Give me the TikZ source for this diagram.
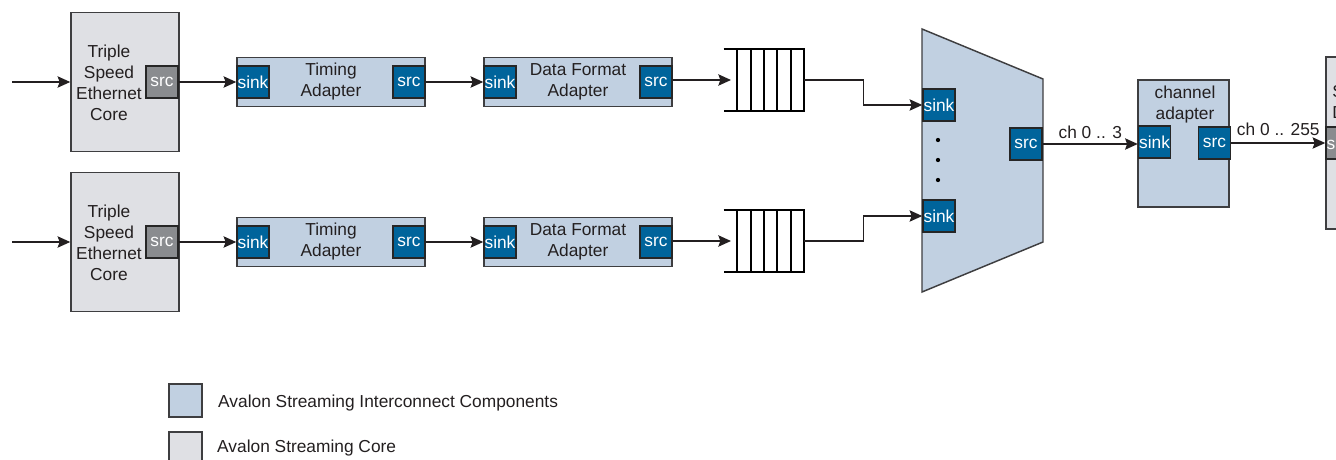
\documentclass[tikz,border=0pt]{standalone}
\usepackage{fontspec}
\setmainfont{Liberation Sans}
\usetikzlibrary{arrows.meta, positioning, calc}

\definecolor{icblue}{RGB}{193,208,225}
\definecolor{coregray}{RGB}{223,224,228}
\definecolor{portblue}{RGB}{0,100,155}
\definecolor{portgray}{RGB}{138,140,143}
\definecolor{edgegray}{RGB}{62,62,64}
\definecolor{txtgray}{RGB}{35,31,32}

\tikzset{
  coreblock/.style={draw=edgegray, fill=coregray, line width=1.1pt, inner sep=0pt},
  icblock/.style={draw=edgegray, fill=icblue, line width=1.1pt, inner sep=0pt, align=center},
  blueport/.style={draw=black!85, fill=portblue, text=white, line width=1.1pt,
    minimum width=24pt, minimum height=24pt, inner sep=0pt},
  greyport/.style={blueport, fill=portgray},
  flow/.style={draw=txtgray, line width=1pt, -{Stealth[length=9.5pt,width=8.5pt,inset=1.5pt]}},
  fifoline/.style={draw=black, line width=1.5pt}
}

\begin{document}
\begin{tikzpicture}[x=0.75pt, y=-0.75pt, font=\fontsize{13}{15.75}\selectfont, text=txtgray]
  \useasboundingbox (0,0) rectangle (1336,460);
  \clip (0,0) rectangle (1336,460);

  % Multiplexer
  \draw[icblock] (922,29) -- (1043,79) -- (1043,242) -- (922,292) -- cycle;
  \node[blueport] (mxsink1) at (939,105) {sink};
  \node[blueport] (mxsink2) at (939,216) {sink};
  \node[blueport] (mxsrc) at (1026,144) {src};
  \foreach \d in {140,160,180}
    \fill[black] (938,\d) circle (1.6pt);

  % Two input rows
  \foreach \r/\y/\qy in {1/82/80, 2/242/241} {
    \coordinate (in\r) at (12,\y);
    \node[coreblock, minimum width=81pt, minimum height=104.25pt] (tse\r) at (125,\y) {};
    \node[align=center] (tsetxt\r) at (109,\y+1) {Triple\\Speed\\Ethernet\\Core};
    \node[greyport] (tsesrc\r) at (162,\y) {src};

    \node[icblock, minimum width=141pt, minimum height=36.75pt] (ta\r) at (331,\y) {Timing\\Adapter};
    \node[blueport] (tasink\r) at (253,\y) {sink};
    \node[blueport] (tasrc\r) at (409,\y) {src};

    \node[icblock, minimum width=141pt, minimum height=36.75pt] (dfa\r) at (578,\y) {Data Format\\Adapter};
    \node[blueport] (dfasink\r) at (500,\y) {sink};
    \node[blueport] (dfasrc\r) at (656,\y) {src};

    % FIFO
    \node[minimum width=60pt, minimum height=46.5pt, inner sep=0pt] (q\r) at (764,\qy) {};
    \draw[fifoline] (q\r.north west) -- (q\r.north east) -- (q\r.south east) -- (q\r.south west);
    \foreach \i in {1,...,5}
      \draw[fifoline] ($(q\r.north west)!{\i/6}!(q\r.north east)$) -- ($(q\r.south west)!{\i/6}!(q\r.south east)$);
    \coordinate (qin\r) at (731,\qy);

    \draw[flow] (in\r) -- (tse\r);
    \draw[flow] (tsesrc\r) -- (tasink\r);
    \draw[flow] (tasrc\r) -- (dfasink\r);
    \draw[flow] (dfasrc\r.east |- qin\r) -- (qin\r);
    \draw[flow] (q\r.east) -- ++(59,0) |- (mxsink\r.west);
  }

  % Channel adapter
  \node[icblock, minimum width=68.25pt, minimum height=95.25pt] (ca) at (1183.5,143.5) {};
  \node[align=center] (catxt) at (1185,105) {channel\\adapter};
  \node[blueport] (casink) at (1154.5,142) {sink};
  \node[blueport] (casrc) at (1214.5,143) {src};

  % Core on the right edge
  \node[coreblock, minimum width=81pt, minimum height=129pt] (rx) at (1380,143) {};
  \node[anchor=west, align=left, inner sep=0pt] (rxtxt) at (1332,102) {S\\D};
  \node[greyport] (rxsink) at (1342,143) {sink};

  \draw[flow] (mxsrc.east) -- node[above] {ch 0 .. 3} (mxsrc.east -| casink.west);
  \draw[flow] (casrc.east) -- node[above, yshift=2pt] {ch 0 .. 255} (casrc.east -| rxsink.west);

  % Legend
  \node[icblock, minimum size=24.75pt] (legic) at (185.5,400.5) {};
  \node[anchor=west] (legictxt) at (213.5,403) {Avalon Streaming Interconnect Components};
  \node[coreblock, minimum size=24.75pt] (legcore) at (185.5,448.5) {};
  \node[anchor=west] (legcoretxt) at (212.5,448) {Avalon Streaming Core};
\end{tikzpicture}
\end{document}
